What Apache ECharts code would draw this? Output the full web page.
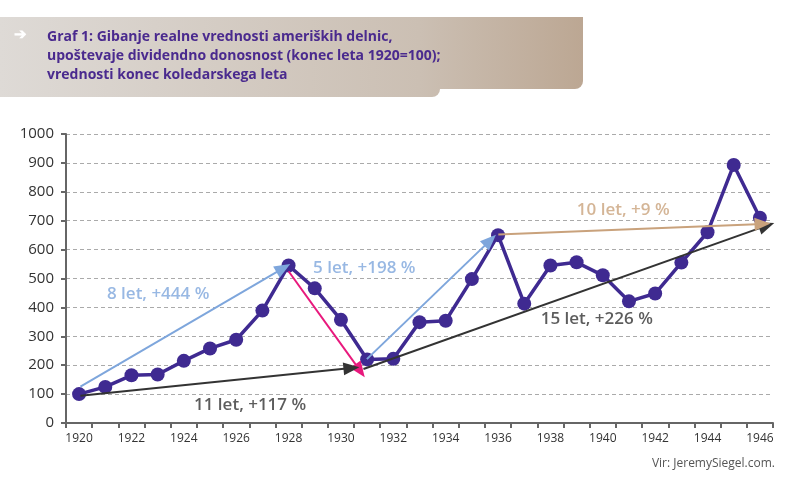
<!DOCTYPE html>
<html><head><meta charset="utf-8">
<script src="https://cdn.jsdelivr.net/npm/echarts@6/dist/echarts.min.js"></script>
<style>html,body{margin:0;padding:0;background:#fff}#c{width:800px;height:490px}</style>
</head><body><div id="c"></div>
<script>
var years = ['1920','1921','1922','1923','1924','1925','1926','1927','1928','1929','1930','1931','1932','1933','1934','1935','1936','1937','1938','1939','1940','1941','1942','1943','1944','1945','1946'];
var values = [100,125,165,168,215,258,288,389,545,466,357,220,222,349,354,498,650,413,545,556,511,421,448,555,660,893,710];
var yTicks = {min:0, max:1000, interval:100};
// arrows: [x1, y1, x2, y2] in year/value units
var arrowBlue8 = [1920.05,126,1927.8,536];
var arrowPink = [1928.0,525,1930.73,181];
var arrowDark11 = [1920.05,94,1930.4,190];
var arrowDark15 = [1930.86,187,1946.26,683];
var arrowBlue5 = [1930.99,221,1935.7,632];
var arrowTan10 = [1936.01,652,1946.1,689];
// annotation labels: [x, y, text]
var labelBlue8 = [1923.02,446,'8 let, +444 %'];
var labelDark11 = [1926.53,62,'11 let, +117 %'];
var labelBlue5 = [1930.89,537,'5 let, +198 %'];
var labelDark15 = [1939.77,360,'15 let, +226 %'];
var labelTan10 = [1940.78,738,'10 let, +9 %'];
var titleLines = ['Graf 1: Gibanje realne vrednosti ameriških delnic,','upoštevaje dividendno donosnost (konec leta 1920=100);','vrednosti konec koledarskega leta'];
var sourceText = 'Vir: JeremySiegel.com.';

var cBlue='#7ea6dc', cPink='#e8197d', cDark='#333333', cTan='#c9a27c', cLine='#3f2a91';
var FONT = '"Open Sans", "Noto Sans", sans-serif';

function arrow(a, color){
  return [{coord:[a[0],a[1]], lineStyle:{color:color,width:2,type:'solid'}, symbol:'none'},{coord:[a[2],a[3]]}];
}
function lbl(l, color){
  return {value:[l[0],l[1]], name:l[2], label:{color:color}};
}
function bannerFill(){
  return new echarts.graphic.LinearGradient(0,0,583,0,[{offset:0,color:'#dedad6'},{offset:0.72,color:'#cbbfb3'},{offset:1,color:'#bca793'}],true);
}

var chart = echarts.init(document.getElementById('c'), null, {renderer:'canvas'});
chart.setOption({
  animation:false,
  textStyle:{fontFamily:FONT},
  graphic:[
    {type:'rect', left:0, top:17, shape:{x:0,y:0,width:583,height:72,r:[0,0,8,0]}, style:{fill:bannerFill()}, z:0},
    {type:'rect', left:0, top:17, shape:{x:0,y:0,width:440,height:80,r:[0,0,8,0]}, style:{fill:bannerFill()}, z:0},
    {type:'text', left:14, top:27, style:{text:'➔', fill:'#ffffff', font:'bold 15px '+FONT}, z:1},
    {type:'text', left:47, top:28, style:{text:titleLines.join('\n'), fill:'#4a2a8e', font:'bold 14px '+FONT, lineHeight:19}, z:1},
    {type:'text', right:25, top:458, style:{text:sourceText, fill:'#555555', font:'12px '+FONT}}
  ],
  grid:{left:66, right:27, top:134, bottom:67, containLabel:false},
  xAxis:[{
    type:'category', data:years, boundaryGap:true,
    axisLine:{lineStyle:{color:'#666666',width:2}},
    axisTick:{show:true, interval:0, length:5, lineStyle:{color:'#666666',width:2}},
    axisLabel:{interval:1, color:'#333333', fontSize:12, margin:10, fontFamily:FONT},
    splitLine:{show:false}
  },{
    type:'value', min:1919.5, max:1946.5, show:false
  }],
  yAxis:{
    type:'value', min:yTicks.min, max:yTicks.max, interval:yTicks.interval,
    axisLine:{show:true, lineStyle:{color:'#666666',width:2}},
    axisTick:{show:true, length:5, lineStyle:{color:'#666666',width:2}},
    axisLabel:{color:'#333333', fontSize:15, margin:12, fontFamily:FONT, formatter:function(v){return String(v);}},
    splitLine:{show:true, lineStyle:{color:'#aaaaaa', type:[4,3], width:1}}
  },
  series:[
    {
      type:'line', xAxisIndex:1, data:[], silent:true,
      markLine:{
        silent:true, symbol:['none','triangle'], symbolSize:[13,16], label:{show:false},
        animation:false,
        data:[arrow(arrowBlue8,cBlue), arrow(arrowPink,cPink), arrow(arrowDark11,cDark), arrow(arrowDark15,cDark), arrow(arrowBlue5,cBlue), arrow(arrowTan10,cTan)]
      },
      z:2
    },
    {
      type:'line', data:values, xAxisIndex:0, z:3,
      lineStyle:{color:cLine,width:3.5}, itemStyle:{color:cLine},
      symbol:'circle', symbolSize:14, showSymbol:true
    },
    {
      type:'scatter', xAxisIndex:1, symbolSize:0, z:4, silent:true,
      data:[lbl(labelBlue8,cBlue), lbl(labelDark11,cDark), lbl(labelBlue5,cBlue), lbl(labelDark15,cDark), lbl(labelTan10,cTan)],
      label:{show:true, position:'inside', formatter:function(p){return p.name;}, fontSize:17, fontWeight:600, fontFamily:FONT}
    }
  ]
});
</script></body></html>
